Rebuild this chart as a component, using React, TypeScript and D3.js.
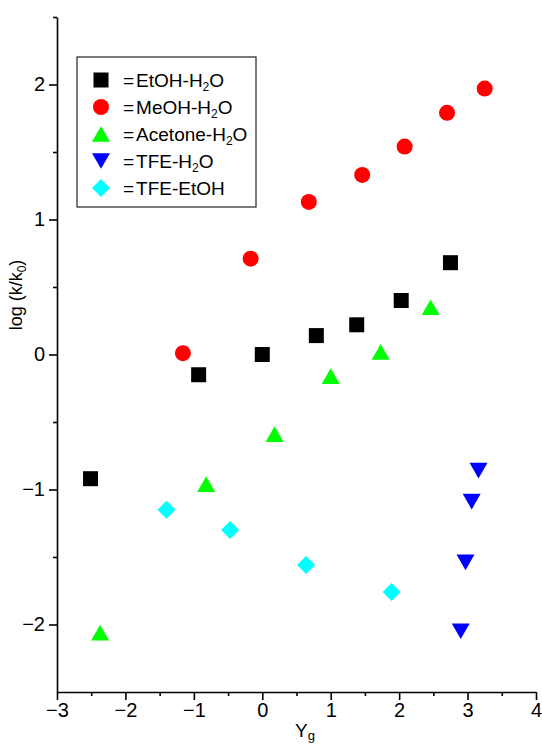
// Scatter of log(k/k0) against Y for five solvent mixtures, drawn with d3 scales
import React, { useRef, useEffect } from 'react';
import * as d3 from 'd3';

// series data
const etohX = [-2.51, -0.93, 0.0, 0.79, 1.38, 2.03, 2.75];
const etohY = [-0.92, -0.15, 0.0, 0.14, 0.22, 0.40, 0.68];

const meohX = [-1.16, -0.17, 0.68, 1.46, 2.08, 2.70, 3.25];
const meohY = [0.01, 0.71, 1.13, 1.33, 1.54, 1.79, 1.97];

const acetoneX = [-2.37, -0.82, 0.18, 1.0, 1.73, 2.46];
const acetoneY = [-2.06, -0.96, -0.59, -0.16, 0.02, 0.35];

const tfeWaterX = [2.90, 2.97, 3.06, 3.16];
const tfeWaterY = [-2.05, -1.54, -1.09, -0.86];

const tfeEtohX = [-1.40, -0.47, 0.64, 1.89];
const tfeEtohY = [-1.15, -1.30, -1.56, -1.76];

const seriesNames = ['EtOH-H', 'MeOH-H', 'Acetone-H', 'TFE-H', 'TFE-EtOH'];
const seriesSub = ['2', '2', '2', '2', ''];
const seriesTail = ['O', 'O', 'O', 'O', ''];

const xTicks = [-3, -2, -1, 0, 1, 2, 3, 4];
const yTicks = [-2, -1, 0, 1, 2];

// custom symbols, size = width in px, centred on their box
const squareSym = { draw(ctx, s) { const h = s / 2; ctx.rect(-h, -h, s, s); } };
const circleSym = { draw(ctx, s) { const r = s / 2; ctx.moveTo(r, 0); ctx.arc(0, 0, r, 0, 2 * Math.PI); } };
const triUpSym = {
  draw(ctx, s) {
    const h = s * 0.87;
    ctx.moveTo(0, -h / 2); ctx.lineTo(s / 2, h / 2); ctx.lineTo(-s / 2, h / 2); ctx.closePath();
  }
};
const triDownSym = {
  draw(ctx, s) {
    const h = s * 0.87;
    ctx.moveTo(0, h / 2); ctx.lineTo(s / 2, -h / 2); ctx.lineTo(-s / 2, -h / 2); ctx.closePath();
  }
};
const diamondSym = {
  draw(ctx, s) {
    const h = s / 2;
    ctx.moveTo(0, -h); ctx.lineTo(h, 0); ctx.lineTo(0, h); ctx.lineTo(-h, 0); ctx.closePath();
  }
};

export default function App() {
  const ref = useRef(null);
  const width = 542;
  const height = 745;
  const margin = { top: 17, right: 6, bottom: 53, left: 57 };
  const font = 'Liberation Sans, Arial, sans-serif';

  useEffect(() => {
    const svg = d3.select(ref.current);
    svg.selectAll('*').remove();

    const x = d3.scaleLinear().domain([-3, 4]).range([margin.left, width - margin.right]);
    const y = d3.scaleLinear().domain([-2.5, 2.5]).range([height - margin.bottom, margin.top]);

    const series = [
      { xs: etohX, ys: etohY, sym: squareSym, size: 15, color: '#000000' },
      { xs: meohX, ys: meohY, sym: circleSym, size: 16, color: '#ff0000' },
      { xs: acetoneX, ys: acetoneY, sym: triUpSym, size: 18, color: '#00ff00' },
      { xs: tfeWaterX, ys: tfeWaterY, sym: triDownSym, size: 18, color: '#0000ff' },
      { xs: tfeEtohX, ys: tfeEtohY, sym: diamondSym, size: 18, color: '#00ffff' },
    ];

    // x axis with major + minor ticks
    const xAxis = svg.append('g')
      .attr('transform', `translate(0,${height - margin.bottom})`)
      .call(d3.axisBottom(x).tickValues(d3.range(-2.5, 4, 1)).tickSize(4).tickFormat(() => ''));
    xAxis.select('.domain').remove();
    svg.append('g')
      .attr('transform', `translate(0,${height - margin.bottom})`)
      .call(d3.axisBottom(x).tickValues(xTicks).tickSize(8).tickSizeOuter(0).tickPadding(3).tickFormat(d3.format('d')))
      .call(g => g.selectAll('text').attr('font-size', 20).attr('font-family', font).attr('fill', '#000'));

    // y axis
    const yMinor = svg.append('g')
      .attr('transform', `translate(${margin.left},0)`)
      .call(d3.axisLeft(y).tickValues(d3.range(-1.5, 2.6, 1)).tickSize(4).tickFormat(() => ''));
    yMinor.select('.domain').remove();
    svg.append('g')
      .attr('transform', `translate(${margin.left},0)`)
      .call(d3.axisLeft(y).tickValues(yTicks).tickSize(8).tickSizeOuter(0).tickPadding(4).tickFormat(d3.format('d')))
      .call(g => g.selectAll('text').attr('font-size', 20).attr('font-family', font).attr('fill', '#000'));

    svg.selectAll('.domain, .tick line').attr('stroke', '#000').attr('stroke-width', 1.6);

    // points
    series.forEach(s => {
      svg.append('g').selectAll('path')
        .data(s.xs.map((v, i) => [v, s.ys[i]]))
        .enter()
        .append('path')
        .attr('d', d3.symbol().type(s.sym).size(s.size))
        .attr('transform', d => `translate(${x(d[0])},${y(d[1])})`)
        .attr('fill', s.color);
    });

    // legend
    const lg = svg.append('g');
    lg.append('rect')
      .attr('x', 77).attr('y', 57).attr('width', 179).attr('height', 150)
      .attr('fill', 'none').attr('stroke', '#333').attr('stroke-width', 1.3);
    series.forEach((s, i) => {
      const cy = 80 + i * 27;
      lg.append('path')
        .attr('d', d3.symbol().type(s.sym).size(s.size))
        .attr('transform', `translate(101,${cy})`)
        .attr('fill', s.color);
      const t = lg.append('text')
        .attr('x', 123).attr('y', cy + 7)
        .attr('font-size', 19).attr('font-family', font);
      t.append('tspan').text('=');
      t.append('tspan').attr('dx', 2).text(seriesNames[i]);
      if (seriesSub[i]) {
        t.append('tspan').attr('font-size', 12).attr('dy', 4).text(seriesSub[i]);
        t.append('tspan').attr('dy', -4).text(seriesTail[i]);
      }
    });

    // axis titles
    const yt = svg.append('text')
      .attr('transform', `translate(22,295) rotate(-90)`)
      .attr('text-anchor', 'middle')
      .attr('font-size', 18).attr('font-family', font);
    yt.append('tspan').text('log (k/k');
    yt.append('tspan').attr('font-size', 12).attr('dy', 4).text('0');
    yt.append('tspan').attr('dy', -4).text(')');

    const xt = svg.append('text')
      .attr('x', 295).attr('y', 737)
      .attr('font-size', 19).attr('font-family', font);
    xt.append('tspan').text('Y');
    xt.append('tspan').attr('font-size', 13).attr('dy', 3).text('g');
  }, []);

  return (
    <svg ref={ref} width={width} height={height}
      style={{ position: 'absolute', left: 0, top: 0, background: '#fff' }} />
  );
}
